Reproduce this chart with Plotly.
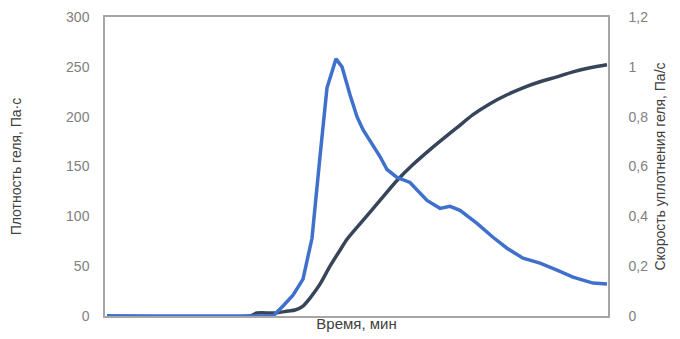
import plotly.graph_objects as go

# Time (arbitrary minutes, axis has no labels) and values
density_time = [0, 28.6, 30, 33.6, 36.2, 37.6, 39.2, 40.6, 42.6, 44.6, 46.6, 48, 51.2, 54.6, 58,
                61.2, 64.6, 68, 70, 73.2, 76.6, 80, 83.2, 86.6, 90, 93.2, 96.6, 100]
density_vals = [0, 0, 3, 3, 5, 6, 10, 18, 32, 50, 66, 77, 96, 116, 136,
                152, 167, 181, 189, 202, 213, 222, 229, 235, 240, 245, 249, 252]

rate_time = [0, 33.2, 35.2, 37.2, 39.2, 41, 42.6, 44, 45.8, 47, 48.6, 50, 51.2, 53.2, 54.6,
             56, 58, 60.6, 62.6, 64, 66.6, 68, 68.6, 70.6, 72.6, 74, 77.2, 80, 83.2,
             86.6, 90, 93.2, 95.2, 97.2, 100]
rate_vals = [0, 0, 0.04, 0.084, 0.148, 0.312, 0.64, 0.916, 1.032, 1.0, 0.888, 0.8,
             0.748, 0.688, 0.64, 0.588, 0.556, 0.536, 0.496, 0.464, 0.432, 0.436, 0.44,
             0.424, 0.392, 0.372, 0.316, 0.272, 0.232, 0.212, 0.184, 0.156, 0.144, 0.132, 0.128]

left_ticks = [0, 50, 100, 150, 200, 250, 300]
right_ticks = [0, 0.2, 0.4, 0.6, 0.8, 1.0, 1.2]

fig = go.Figure()
fig.add_trace(go.Scatter(x=density_time, y=density_vals, mode="lines",
                         line=dict(color="#36455A", width=3.5, shape="spline", smoothing=0.8),
                         name="Плотность геля", yaxis="y"))
fig.add_trace(go.Scatter(x=rate_time, y=rate_vals, mode="lines",
                         line=dict(color="#3F70CC", width=3.5),
                         name="Скорость уплотнения геля", yaxis="y2"))

font_family = "Liberation Sans, Arial, sans-serif"
tickfont = dict(family=font_family, size=14, color="#808080")
titlefont = dict(family=font_family, size=14, color="#404040")

# The page body adds an 8 px offset, so the figure is sized 8 px smaller.
fig.update_layout(
    width=672, height=331,
    margin=dict(l=97, r=72, t=9, b=23),
    paper_bgcolor="white", plot_bgcolor="white",
    showlegend=False,
    separators=", ",
    xaxis=dict(range=[-0.4, 100.2], showticklabels=False, ticks="", showgrid=False,
               zeroline=False, showline=True, mirror=True, linecolor="#a6a6a6", linewidth=1.5,
               automargin=False,
               title=dict(text="Время, мин", font=dict(family=font_family, size=15,
                                                      color="#404040"), standoff=2)),
    yaxis=dict(range=[0, 300], tickvals=left_ticks, showgrid=False, zeroline=False,
               showline=True, linecolor="#a6a6a6", linewidth=1.5,
               ticks="outside", ticklen=11, tickcolor="rgba(0,0,0,0)",
               tickfont=tickfont, automargin=False,
               title=dict(text="Плотность геля, Па·с", font=titlefont, standoff=46)),
    yaxis2=dict(range=[0, 1.2], tickvals=right_ticks, overlaying="y", side="right",
                showgrid=False, zeroline=False, showline=True, linecolor="#a6a6a6",
                linewidth=1.5, ticks="outside", ticklen=16, tickcolor="rgba(0,0,0,0)",
                tickfont=tickfont, automargin=False,
                title=dict(text="Скорость уплотнения геля, Па/с", font=titlefont, standoff=8)),
)

fig.write_html("out.html")
